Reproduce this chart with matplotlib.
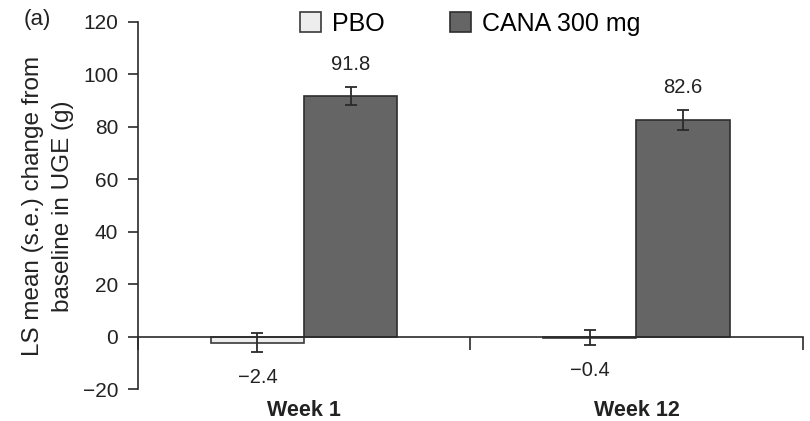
import matplotlib.pyplot as plt
import numpy as np

plt.rcParams['font.family'] = ['Liberation Sans', 'DejaVu Sans']

weeks = ['Week 1', 'Week 12']
series = ['PBO', 'CANA 300 mg']
pbo = [-2.4, -0.4]
cana = [91.8, 82.6]
pbo_se = [3.6, 3.0]
cana_se = [3.4, 3.8]
value_labels_pbo = ['\u22122.4', '\u22120.4']
value_labels_cana = ['91.8', '82.6']

fig = plt.figure(figsize=(8.1, 4.21), dpi=100)
ax = fig.add_axes([0.170, 0.076, 0.821, 0.872])

x = np.arange(len(weeks))
w = 0.28
ekw = dict(ecolor='#2a2a2a', elinewidth=1.3, capsize=4.5, capthick=1.3)

ax.bar(x - w / 2, pbo, w, yerr=pbo_se, color='#ededed', edgecolor='#3a3a3a',
       linewidth=1.2, label=series[0], error_kw=ekw, zorder=2)
ax.bar(x + w / 2, cana, w, yerr=cana_se, color='#656565', edgecolor='#2e2e2e',
       linewidth=1.2, label=series[1], error_kw=ekw, zorder=2)

# value labels: above the error bar for gains, below for losses
for i in range(len(weeks)):
    ax.annotate(value_labels_cana[i], (x[i] + w / 2, cana[i] + cana_se[i]),
                xytext=(0, 9), textcoords='offset points',
                ha='center', va='bottom', fontsize=14.5, color='#222222')
    ax.annotate(value_labels_pbo[i], (x[i] - w / 2, pbo[i] - pbo_se[i]),
                xytext=(0, -11), textcoords='offset points',
                ha='center', va='top', fontsize=14.5, color='#222222')

ax.set_xlim(-0.5, 1.5)
ax.set_ylim(-20, 120)
ax.set_yticks(np.arange(-20, 121, 20))
ax.set_yticklabels(['\u221220'] + [str(v) for v in range(0, 121, 20)])

ax.spines['top'].set_visible(False)
ax.spines['right'].set_visible(False)
ax.spines['bottom'].set_position(('data', 0))
for s in ('left', 'bottom'):
    ax.spines[s].set_linewidth(1.2)
    ax.spines[s].set_color('#2a2a2a')

ax.set_xticks([-0.5, 0.5, 1.5])
ax.set_xticklabels([])
ax.tick_params(axis='x', direction='out', length=9, width=1.2, color='#2a2a2a')
ax.tick_params(axis='y', direction='out', length=7, width=1.2, color='#2a2a2a',
               labelsize=15, labelcolor='#222222', pad=7)

for i, lab in enumerate(weeks):
    ax.text(x[i], -0.03, lab, transform=ax.get_xaxis_transform(),
            ha='center', va='top', fontsize=15.5, fontweight='bold', color='#222222')

fig.text(48 / 810, 1 - 206 / 421, 'LS mean (s.e.) change from\nbaseline in UGE (g)',
         rotation=90, ha='center', va='center', ma='center',
         fontsize=17.5, color='#222222', linespacing=1.45)

fig.text(37 / 810, 1 - 20 / 421, '(a)', fontsize=16, ha='center', va='center', color='#222222')

ax.legend(loc='center', bbox_to_anchor=(0.50, 0.995), ncol=2, frameon=False,
          fontsize=18, handlelength=0.85, handleheight=0.85, handletextpad=0.45,
          columnspacing=2.6, borderaxespad=0)

fig.savefig('out.png', dpi=100)
